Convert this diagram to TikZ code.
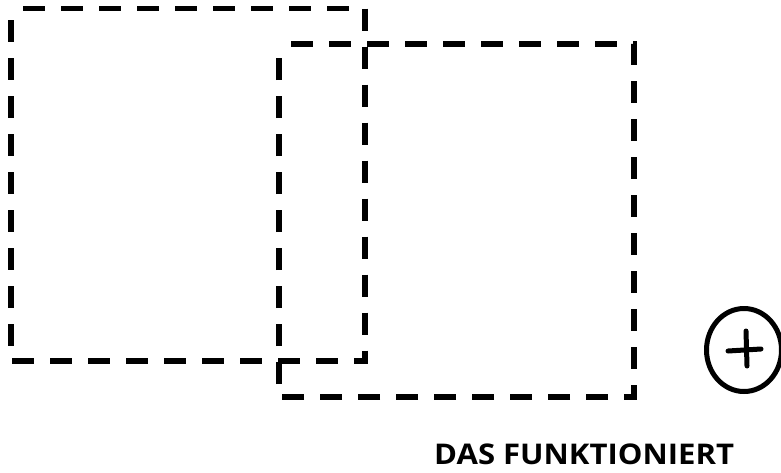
\documentclass[tikz,border=0pt]{standalone}
\usepackage{fontspec}
\setmainfont{Open Sans}
\usetikzlibrary{shapes.geometric}
\begin{document}
\begin{tikzpicture}[x=1pt,y=-1pt,
  dashbox/.style={line width=5.5pt, dash pattern=on 22pt off 16pt, dash phase=26pt},
  pen/.style={line width=5pt, line cap=round, line join=round}]
\useasboundingbox (0,0) rectangle (781,472);
% first box
\coordinate (a1) at (11,8.5);
\coordinate (a2) at (365,8.5);
\coordinate (a3) at (365,361);
\coordinate (a4) at (11,361);
\draw[dashbox] (a1) -- (a2) -- (a3) -- (a4) -- cycle;
% second box
\coordinate (b1) at (279,44);
\coordinate (b2) at (634,44);
\coordinate (b3) at (634,397);
\coordinate (b4) at (279,397);
\draw[dashbox] (b1) -- (b2) -- (b3) -- (b4) -- cycle;
% circled plus
\node[draw, pen, ellipse, minimum width=75pt, minimum height=83pt, inner sep=0pt] (plus) at (744,350) {};
\draw[pen] (728,351) -- (761,349);
\draw[pen] (746,331) -- (747,366);
% label
\node[font=\bfseries\fontsize{28.5}{30}\selectfont, anchor=base west, inner sep=0pt, xscale=1.09, transform shape] (lbl) at (434,464) {DAS FUNKTIONIERT};
\end{tikzpicture}
\end{document}
